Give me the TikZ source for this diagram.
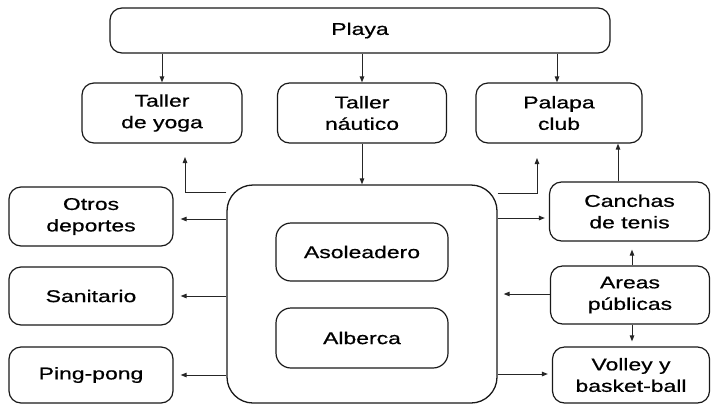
\documentclass[tikz,border=0pt]{standalone}
\usepackage{fontspec}
\setmainfont{Liberation Sans}[FakeStretch=1.35,FakeBold=0.7]
\usetikzlibrary{arrows.meta}
\tikzset{
  box/.style={draw=black!90, line width=1.2pt, rounded corners=12pt, align=center,
    inner sep=0pt, font=\fontsize{17}{21.5}\selectfont},
  bigbox/.style={draw=black!90, line width=1.3pt, rounded corners=26pt, inner sep=0pt},
  arr/.style={draw=black!85, line width=1pt, -{Triangle[length=6pt,width=4.5pt]}},
}
\begin{document}
\begin{tikzpicture}[x=1pt,y=-1pt]
\useasboundingbox (0,0) rectangle (711,405);
% top row
\node[box, minimum width=500pt, minimum height=45pt] (playa) at (360,30.5) {Playa};
\node[box, minimum width=160pt, minimum height=60pt] (yoga) at (162,113) {Taller\\de yoga};
\node[box, minimum width=169pt, minimum height=60pt] (nautico) at (362,113) {Taller\\náutico};
\node[box, minimum width=166pt, minimum height=60pt] (palapa) at (559,113) {Palapa\\club};
% centre
\node[bigbox, minimum width=270pt, minimum height=218pt] (big) at (362,294) {};
\node[box, rounded corners=15pt, minimum width=172pt, minimum height=58pt] (asol) at (362,252) {Asoleadero};
\node[box, rounded corners=15pt, minimum width=172pt, minimum height=60pt] (alberca) at (362,338) {Alberca};
% left column
\node[box, minimum width=164pt, minimum height=59pt] (otros) at (91,216.5) {Otros\\deportes};
\node[box, minimum width=164pt, minimum height=58pt] (sanit) at (91,296) {Sanitario};
\node[box, minimum width=164pt, minimum height=56pt] (ping) at (91,375) {Ping-pong};
% right column
\node[box, minimum width=160pt, minimum height=59pt] (canchas) at (629.5,211.5) {Canchas\\de tenis};
\node[box, minimum width=159pt, minimum height=58pt] (areas) at (630,295) {Areas\\públicas};
\node[box, minimum width=157pt, minimum height=56pt] (volley) at (631,375) {Volley y\\basket-ball};
% connectors from Playa
\draw[arr] (yoga.north |- playa.south) -- (yoga.north);
\draw[arr] (nautico.north |- playa.south) -- (nautico.north);
\coordinate (pp) at ([xshift=-2pt]palapa.north);
\draw[arr] (pp |- playa.south) -- (pp);
\draw[arr] (nautico.south) -- (big.north);
% big box to yoga / palapa
\coordinate (ylA) at ([yshift=-8pt]big.north west);
\coordinate (ytip) at (185,157);
\draw[arr] (ylA) -| (ytip);
\coordinate (plA) at ([yshift=-9pt]big.north east);
\coordinate (ptip) at (537,158);
\draw[arr] (plA) -| (ptip);
% canchas to palapa
\coordinate (cp) at ([xshift=-11.5pt]canchas.north);
\draw[arr] (cp) -- (cp |- palapa.south);
% left arrows
\draw[arr, shorten >=7pt] (big.west |- 0,219) -- (otros.east |- 0,219);
\draw[arr, shorten >=7pt] (big.west |- sanit.east) -- (sanit.east);
\draw[arr, shorten >=7pt] (big.west |- ping.east) -- (ping.east);
% right arrows
\draw[arr, shorten >=4pt] (big.east |- 0,218) -- (canchas.west |- 0,218);
\draw[arr, shorten >=6pt] (areas.west |- 0,294) -- (big.east |- 0,294);
\draw[arr, shorten >=4pt] (big.east |- 0,374) -- (volley.west |- 0,374);
\draw[arr, shorten >=8pt] ([xshift=2pt]areas.north) -- ([xshift=2pt]areas.north |- canchas.south);
\draw[arr, shorten >=5pt] ([xshift=2pt]areas.south) -- ([xshift=2pt]areas.south |- volley.north);
\end{tikzpicture}
\end{document}
